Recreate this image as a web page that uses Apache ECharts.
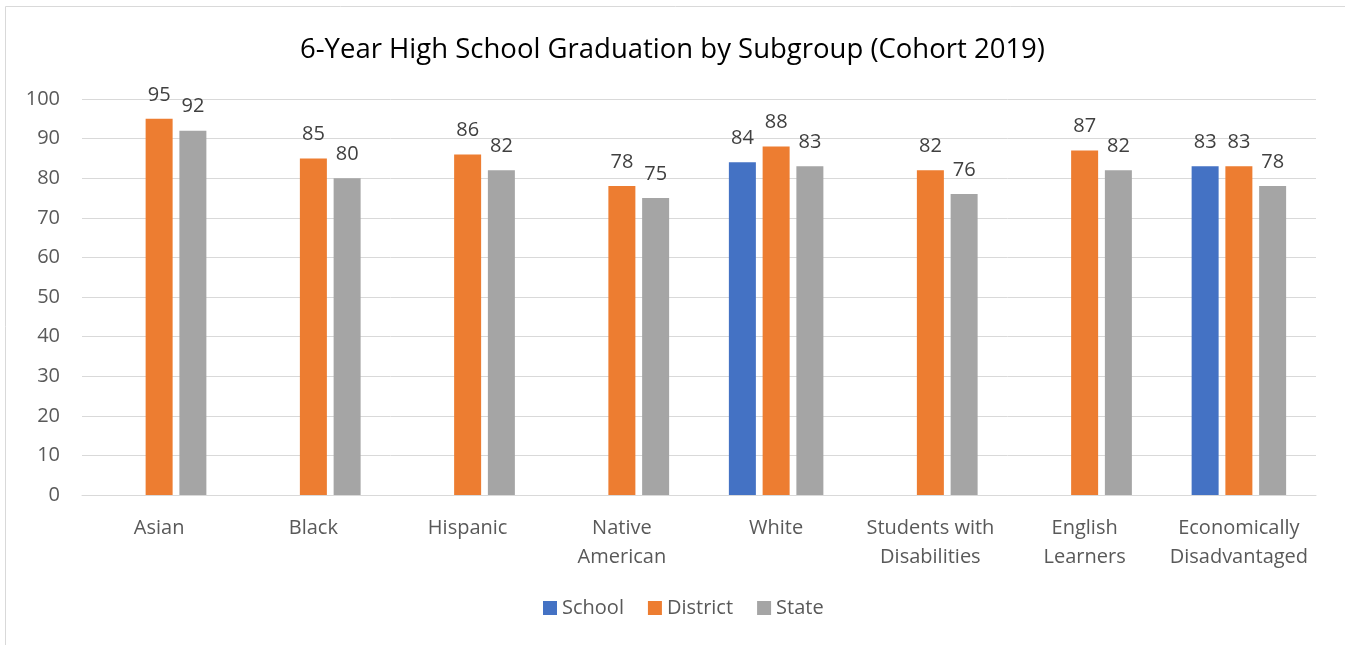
<!DOCTYPE html>
<html><head><meta charset="utf-8">
<script src="https://cdn.jsdelivr.net/npm/echarts@6/dist/echarts.min.js"></script>
<style>html,body{margin:0;padding:0;background:#fff}#c{width:1345px;height:645px}</style>
</head><body><div id="c"></div>
<script>
const categories = ['Asian','Black','Hispanic','Native\nAmerican','White','Students with\nDisabilities','English\nLearners','Economically\nDisadvantaged'];
const schoolValues = [null,null,null,null,84,null,null,83];
const districtValues = [95,85,86,78,88,82,87,83];
const stateValues = [92,80,82,75,83,76,82,78];
const yTicks = [0,10,20,30,40,50,60,70,80,90,100];

const FONT = '"Open Sans", "Noto Sans", sans-serif';
const chart = echarts.init(document.getElementById('c'), null, {renderer:'canvas'});
const lbl = {show:true, position:'top', distance:14, color:'#404040', fontSize:20, fontFamily:FONT};
chart.setOption({
  animation:false,
  textStyle:{fontFamily:FONT},
  graphic:[{type:'rect', shape:{x:5.5,y:6.5,width:1360,height:700}, style:{fill:'none', stroke:'#d9d9d9', lineWidth:1}, silent:true}],
  title:{text:'6-Year High School Graduation by Subgroup (Cohort 2019)', left:'center', top:31,
    textStyle:{fontSize:27.5, fontWeight:'normal', color:'#000', fontFamily:FONT}},
  legend:{bottom:22, left:538, itemWidth:14, itemHeight:14, itemGap:24, icon:'rect',
    textStyle:{fontSize:20, color:'#595959', fontFamily:FONT}, data:['School','District','State']},
  grid:{left:82, right:29, top:99, bottom:150, containLabel:false},
  xAxis:{type:'category', data:categories, axisTick:{show:false},
    axisLine:{lineStyle:{color:'#d9d9d9', width:1}},
    axisLabel:{color:'#595959', fontSize:20, fontFamily:FONT, margin:19, lineHeight:29, interval:0}},
  yAxis:{type:'value', min:0, max:100, interval:10,
    axisLabel:{color:'#595959', fontSize:20, fontFamily:FONT, margin:22},
    splitLine:{lineStyle:{color:'#d9d9d9', width:1}}, axisLine:{show:false}, axisTick:{show:false}},
  series:[
    {name:'School', type:'bar', data:schoolValues, barWidth:27, barGap:'25%', itemStyle:{color:'#4472c4'}, label:lbl},
    {name:'District', type:'bar', data:districtValues, barWidth:27, barGap:'25%', itemStyle:{color:'#ed7d31'}, label:lbl},
    {name:'State', type:'bar', data:stateValues, barWidth:27, barGap:'25%', itemStyle:{color:'#a5a5a5'}, label:lbl}
  ]
});
</script></body></html>
